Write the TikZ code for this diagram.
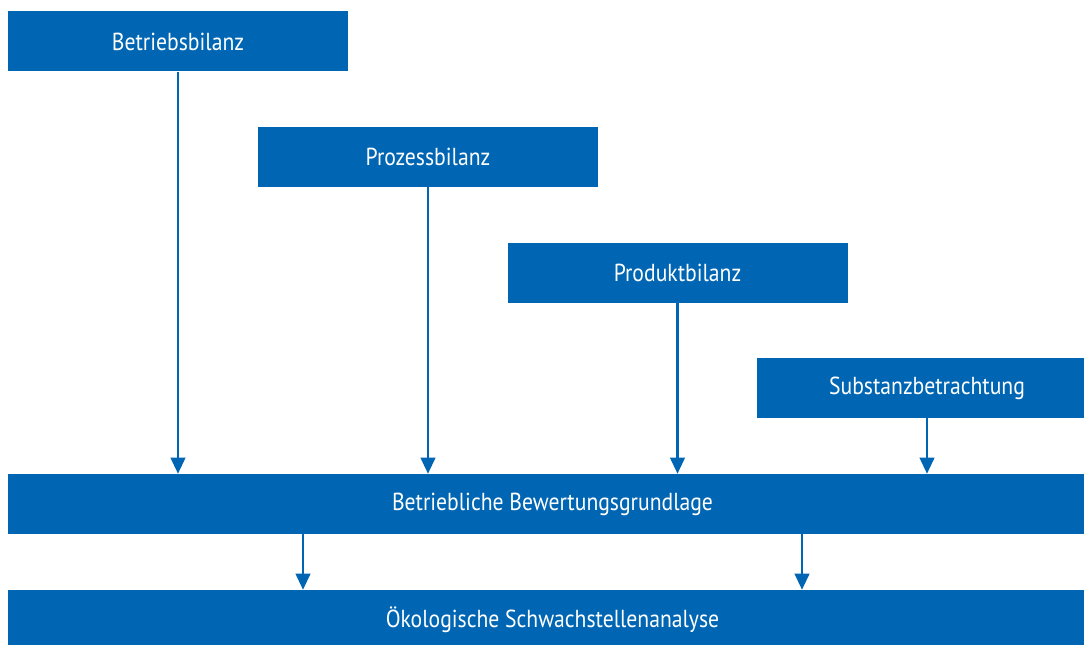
\documentclass[tikz,border=0pt]{standalone}
\usepackage{fontspec}
\setmainfont[FakeStretch=0.88]{PT Sans}
\usepackage{tikz}
\usetikzlibrary{arrows.meta,positioning}
\definecolor{bilanzblau}{RGB}{0,102,179}

\begin{document}
\begin{tikzpicture}[x=0.025cm,y=-0.025cm,
    bilanzbox/.style={fill=bilanzblau,text=white,inner sep=0pt,
      minimum width=340*0.025cm,minimum height=60*0.025cm,
      font=\fontsize{17.5}{19}\selectfont},
    leiste/.style={bilanzbox,minimum width=1089*0.025cm},
    pfeil/.style={draw=bilanzblau,line width=1.5pt,
      -{Triangle[width=10.5pt,length=11.5pt]}}]
  \useasboundingbox (0,0) rectangle (1084,644);
  \clip (0,0) rectangle (1084,644);
  % obere Bilanzen
  \node[bilanzbox] (bb) at (178,41.5) {Betriebsbilanz};
  \node[bilanzbox] (pb) at (428,157) {Prozessbilanz};
  \node[bilanzbox] (prb) at (677.5,273) {Produktbilanz};
  \node[bilanzbox] (sb) at (927,388) {Substanzbetrachtung};
  % Leisten
  \node[leiste] (bg) at (552.5,504) {Betriebliche Bewertungsgrundlage};
  \node[leiste] (oa) at (552.5,620) {Ökologische Schwachstellenanalyse};
  % 
  \coordinate (l1) at (303,534);
  \coordinate (l2) at (802,534);
  % 
  \draw[pfeil] (bb.south) -- (bb.south |- bg.north);
  \draw[pfeil] (pb.south) -- (pb.south |- bg.north);
  \draw[pfeil] (prb.south) -- (prb.south |- bg.north);
  \draw[pfeil] (sb.south) -- (sb.south |- bg.north);
  \draw[pfeil] (l1) -- (l1 |- oa.north);
  \draw[pfeil] (l2) -- (l2 |- oa.north);
\end{tikzpicture}
\end{document}
